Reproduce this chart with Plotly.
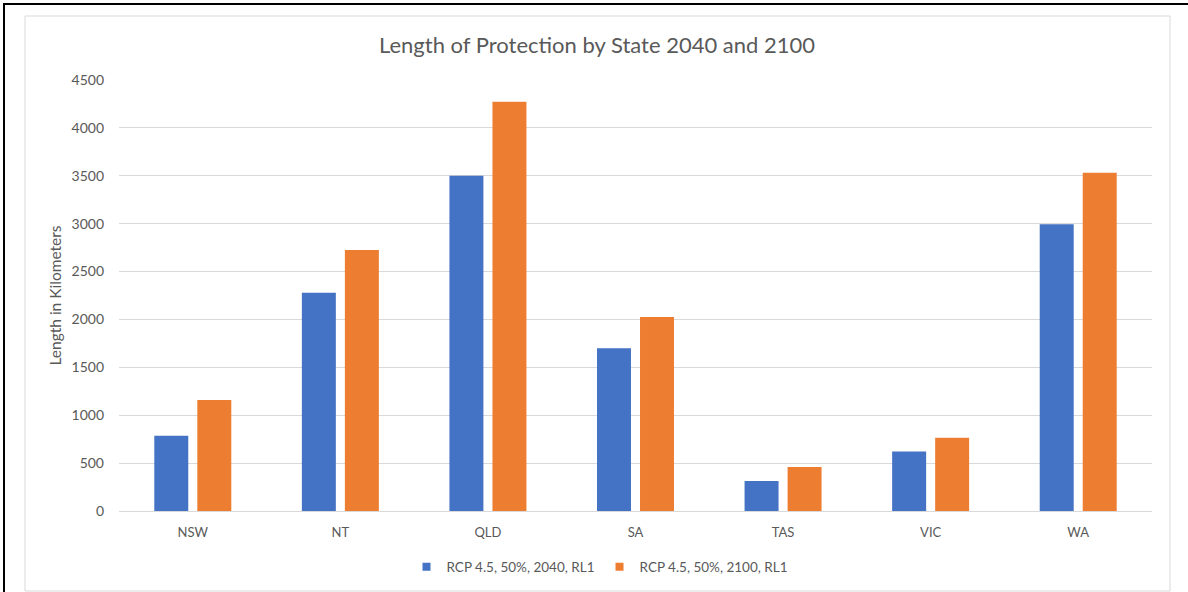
import plotly.graph_objects as go

# Coastal protection length (km) per state
states = ["NSW", "NT", "QLD", "SA", "TAS", "VIC", "WA"]
series_2040_name = "RCP 4.5, 50%, 2040, RL1"
series_2100_name = "RCP 4.5, 50%, 2100, RL1"
length_2040 = [785, 2278, 3499, 1700, 313, 620, 2993]
length_2100 = [1160, 2725, 4272, 2025, 460, 766, 3532]
y_ticks = [0, 500, 1000, 1500, 2000, 2500, 3000, 3500, 4000, 4500]

W, H = 1188, 592
L, R, T, B = 119, 36, 80, 81
PW, PH = W - L - R, H - T - B


def px_x(x):
    return (x - L) / PW


def px_y(y):
    return 1 - (y - T) / PH


TEXT = "#595959"
FONT = "Lato"
BLUE = "#4472C4"
ORANGE = "#ED7D31"

fig = go.Figure()
fig.add_bar(x=states, y=length_2040, name=series_2040_name, marker_color=BLUE,
            marker_line_width=0, showlegend=False)
fig.add_bar(x=states, y=length_2100, name=series_2100_name, marker_color=ORANGE,
            marker_line_width=0, showlegend=False)

# small square legend keys
for name, color in [(series_2040_name, BLUE), (series_2100_name, ORANGE)]:
    fig.add_scatter(x=[None], y=[None], mode="markers", name=name,
                    marker=dict(symbol="square", size=8, color=color),
                    showlegend=True, hoverinfo="skip")

shapes = [
    # chart area border
    dict(type="rect", xref="paper", yref="paper",
         x0=px_x(25), x1=px_x(1170), y0=px_y(591), y1=px_y(16),
         line=dict(color="#d9d9d9", width=1), layer="below"),
    # outer frame (top and left)
    dict(type="line", xref="paper", yref="paper",
         x0=px_x(3), x1=px_x(1188), y0=px_y(4), y1=px_y(4),
         line=dict(color="#000000", width=2)),
    dict(type="line", xref="paper", yref="paper",
         x0=px_x(4), x1=px_x(4), y0=px_y(3), y1=px_y(592),
         line=dict(color="#000000", width=2)),
]

fig.update_layout(
    width=W, height=H,
    margin=dict(l=L, r=R, t=T, b=B, autoexpand=False),
    paper_bgcolor="white", plot_bgcolor="white",
    font=dict(family=FONT, color=TEXT, size=13),
    title=dict(text="Length of Protection by State 2040 and 2100",
               xref="container", x=597 / W, xanchor="center",
               yref="container", y=1 - 45 / H, yanchor="middle",
               font=dict(family=FONT, size=22, color=TEXT)),
    barmode="group", bargap=0.417, bargroupgap=0.21,
    showlegend=True,
    legend=dict(orientation="h", xref="paper", x=px_x(600), xanchor="center",
                yref="paper", y=px_y(567), yanchor="middle",
                font=dict(family=FONT, size=13.5, color=TEXT),
                itemwidth=30, traceorder="normal", tracegroupgap=0),
    shapes=shapes,
)

fig.update_xaxes(showgrid=False, showline=False, ticks="", zeroline=False,
                 tickfont=dict(family=FONT, size=13, color=TEXT),
                 ticklabelstandoff=12)
fig.update_yaxes(range=[0, 4500], tickvals=y_ticks,
                 showgrid=True, gridcolor="#d9d9d9", gridwidth=1,
                 zeroline=True, zerolinecolor="#d9d9d9", zerolinewidth=1,
                 showline=False, ticks="",
                 tickfont=dict(family=FONT, size=14, color=TEXT),
                 ticklabelstandoff=14,
                 title=dict(text="Length in Kilometers", standoff=6,
                            font=dict(family=FONT, size=15.5, color=TEXT)))

fig.write_html("out.html")
